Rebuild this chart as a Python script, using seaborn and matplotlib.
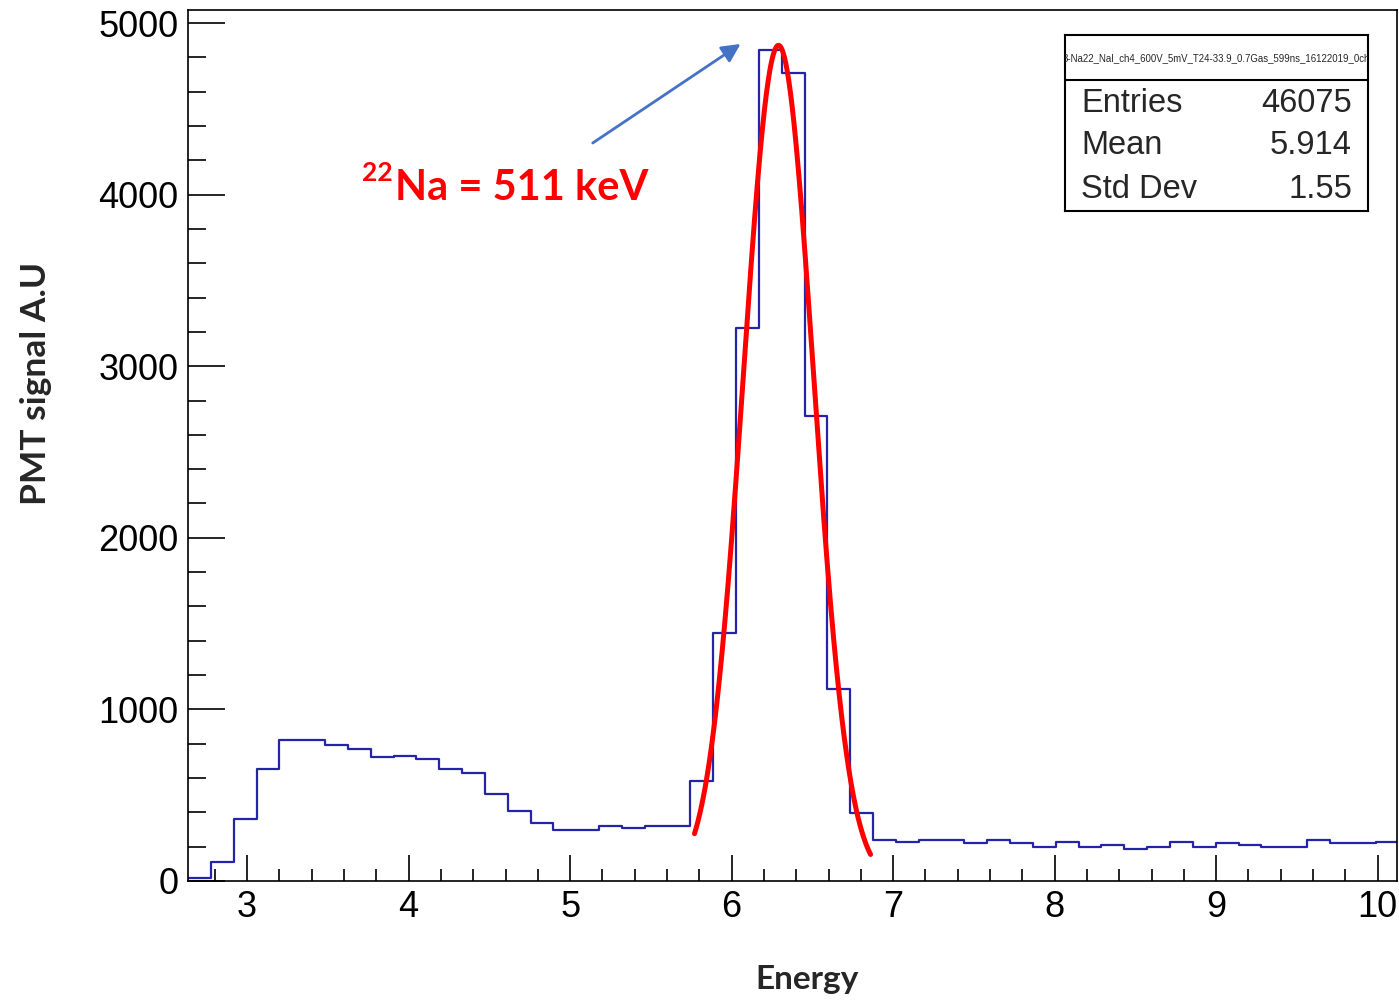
import numpy as np
import pandas as pd
import matplotlib
matplotlib.use("Agg")
import matplotlib.pyplot as plt
import seaborn as sns
from matplotlib.ticker import MultipleLocator

# ---- data ----
first_edge = 2.634
bin_width = 0.1414
counts = [15, 109, 360, 651, 820, 820, 793, 769, 721, 730,
          711, 651, 631, 507, 410, 338, 299, 299, 320, 309,
          320, 320, 583, 1445, 3223, 4840, 4709, 2710, 1119, 396,
          239, 227, 239, 239, 220, 239, 220, 196, 229, 196,
          210, 186, 200, 229, 196, 220, 210, 196, 196, 239,
          220, 220, 229]

# gaussian fit of the photopeak
fit_amp = 4870
fit_mean = 6.29
fit_sigma = 0.217
fit_range = (5.77, 6.86)

stats_title = "3-Na22_NaI_ch4_600V_5mV_T24-33.9_0.7Gas_599ns_16122019_0ch"
stats_names = ["Entries", "Mean", "Std Dev"]
stats_values = ["46075", "5.914", "1.55"]

# ---- build tables ----
edges = [first_edge + bin_width * i for i in range(len(counts) + 1)]
centers = [(a + b) / 2 for a, b in zip(edges[:-1], edges[1:])]
hist_df = pd.DataFrame({"energy": centers, "counts": counts})

x_fit = np.linspace(fit_range[0], fit_range[1], 300)
fit_df = pd.DataFrame({"energy": x_fit,
                       "signal": fit_amp * np.exp(-0.5 * ((x_fit - fit_mean) / fit_sigma) ** 2)})

# ---- style ----
sns.set_style("ticks")
plt.rcParams["font.family"] = ["Liberation Sans", "DejaVu Sans"]

fig = plt.figure(figsize=(13.99, 10), dpi=100)
ax = fig.add_axes([0.1344, 0.119, 0.8642, 0.871])

sns.histplot(data=hist_df, x="energy", weights="counts", bins=edges,
             element="step", fill=False, color="#2424a8", linewidth=1.6, ax=ax)
sns.lineplot(data=fit_df, x="energy", y="signal", color="#ff0000",
             linewidth=3.6, ax=ax)

ax.set_xlim(first_edge, 10.12)
ax.set_ylim(0, 5076)
ax.xaxis.set_major_locator(MultipleLocator(1))
ax.xaxis.set_minor_locator(MultipleLocator(0.2))
ax.yaxis.set_major_locator(MultipleLocator(1000))
ax.yaxis.set_minor_locator(MultipleLocator(200))

ax.tick_params(axis="both", which="both", direction="in", width=1.2,
               top=False, right=False, labelsize=26, colors="black")
ax.tick_params(axis="x", which="major", length=18.7, pad=6.5)
ax.tick_params(axis="x", which="minor", length=8.6)
ax.tick_params(axis="y", which="major", length=26.6, pad=7)
ax.tick_params(axis="y", which="minor", length=13)
for s in ax.spines.values():
    s.set_linewidth(1.2)
    s.set_color("black")

ax.set_xlabel("")
ax.set_ylabel("")
fig.text(0.577, 0.02, "Energy", fontsize=24, fontweight="bold",
         family=["Lato", "DejaVu Sans"], ha="center", va="center")
fig.text(0.026, 0.617, "PMT signal A.U", fontsize=25.5, fontweight="bold",
         family=["Lato", "DejaVu Sans"], ha="center", va="center", rotation=90)

# annotation
ax.text(3.915, 3968, "Na = 511 keV", color="#ff0000", fontsize=30,
        fontweight="bold", family=["Lato", "DejaVu Sans"], ha="left", va="baseline")
ax.text(3.711, 4195, "22", color="#ff0000", fontsize=19,
        fontweight="bold", family=["Lato", "DejaVu Sans"], ha="left", va="top")
ax.annotate("", xy=(6.055, 4878), xytext=(5.14, 4301),
            arrowprops=dict(arrowstyle="-|>", color="#4472c4", lw=2,
                            mutation_scale=28, shrinkA=0, shrinkB=0))

# stats box
sax = fig.add_axes([0.7613, 0.789, 0.2166, 0.176])
sax.set_xticks([])
sax.set_yticks([])
sax.set_xlim(0, 1)
sax.set_ylim(0, 1)
for s in sax.spines.values():
    s.set_linewidth(1.5)
    s.set_color("black")
sax.axhline(0.744, color="black", linewidth=1.5)
t = sax.text(0.5, 0.869, stats_title, fontsize=6.9, ha="center", va="center")
t.set_clip_on(True)
row_y = [0.61, 0.37, 0.12]
for name, val, yy in zip(stats_names, stats_values, row_y):
    sax.text(0.053, yy, name, fontsize=23.5, ha="left", va="center")
    sax.text(0.947, yy, val, fontsize=23.5, ha="right", va="center")

fig.savefig("out.png", dpi=100)
